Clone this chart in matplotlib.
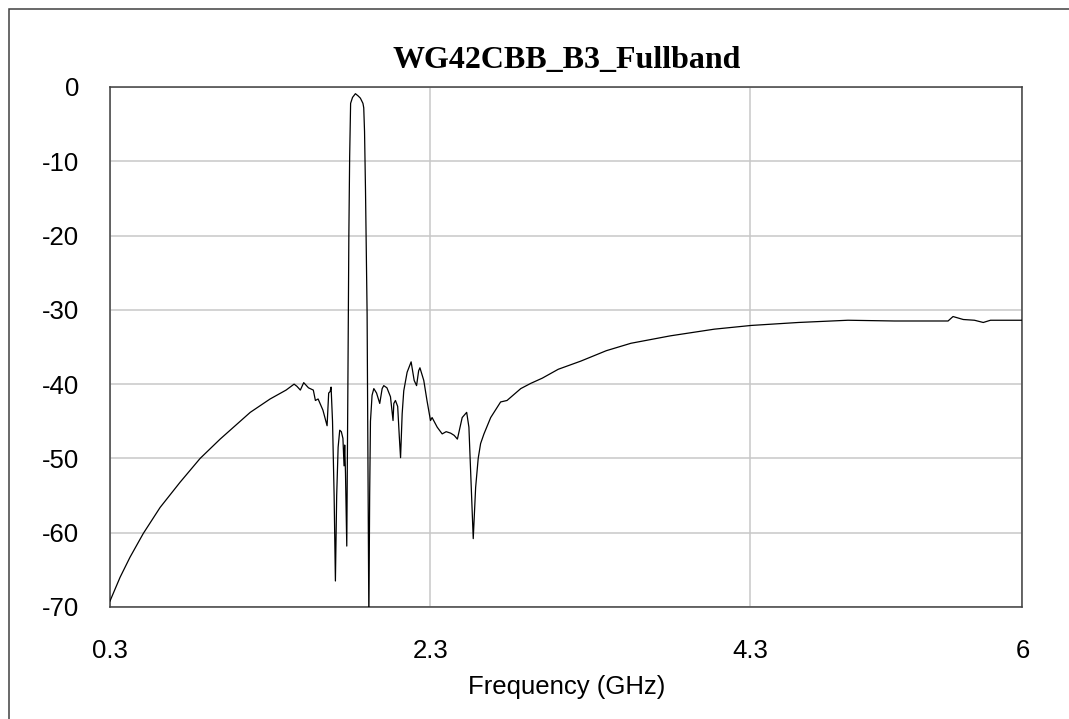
import matplotlib
matplotlib.use("Agg")
import matplotlib.pyplot as plt
from matplotlib.patches import Rectangle

plt.rcParams["axes.unicode_minus"] = False

# S-parameter trace (GHz, dB)
freq_ghz = [
    0.300, 0.363, 0.425, 0.508, 0.613, 0.738, 0.863, 0.988, 1.176, 1.300,
    1.400, 1.450, 1.468, 1.489, 1.510, 1.540, 1.570, 1.583, 1.600, 1.630,
    1.656, 1.666, 1.675, 1.681, 1.690, 1.700, 1.708, 1.716, 1.725, 1.735,
    1.745, 1.755, 1.762, 1.766, 1.771, 1.779, 1.786, 1.792, 1.797, 1.800,
    1.803, 1.815, 1.833, 1.850, 1.864, 1.880, 1.885, 1.890, 1.896, 1.906,
    1.917, 1.922, 1.927, 1.937, 1.948, 1.965, 1.985, 2.000, 2.010, 2.030,
    2.052, 2.068, 2.073, 2.083, 2.097, 2.107, 2.115, 2.125, 2.135, 2.156,
    2.181, 2.200, 2.215, 2.228, 2.236, 2.260, 2.280, 2.302, 2.312, 2.344,
    2.375, 2.400, 2.428, 2.450, 2.470, 2.500, 2.528, 2.542, 2.555, 2.569,
    2.584, 2.600, 2.615, 2.636, 2.678, 2.740, 2.780, 2.866, 2.928, 3.000,
    3.100, 3.241, 3.400, 3.554, 3.800, 4.075, 4.305, 4.600, 4.910, 5.200,
    5.535, 5.566, 5.630, 5.700, 5.755, 5.800, 6.000,
]
s21_db = [
    -69.2, -66.0, -63.3, -60.1, -56.6, -53.2, -50.0, -47.4, -43.8, -42.0,
    -40.8, -40.0, -40.3, -40.8, -39.8, -40.5, -40.8, -42.2, -42.0, -43.5,
    -45.6, -41.2, -41.0, -40.4, -45.0, -55.0, -66.5, -55.0, -48.5, -46.2,
    -46.4, -47.3, -51.0, -48.2, -52.0, -61.8, -40.0, -20.0, -9.4, -5.8,
    -2.2, -1.4, -0.9, -1.2, -1.5, -2.2, -2.8, -6.0, -13.9, -30.5,
    -72.0, -55.0, -45.0, -41.5, -40.6, -41.2, -42.6, -40.6, -40.2, -40.5,
    -41.7, -44.9, -42.6, -42.2, -43.0, -47.0, -49.9, -44.0, -40.9, -38.4,
    -37.0, -39.5, -40.2, -38.2, -37.8, -39.5, -42.2, -44.9, -44.5, -45.8,
    -46.7, -46.4, -46.6, -46.9, -47.4, -44.5, -43.8, -45.8, -53.0, -60.8,
    -53.9, -50.0, -48.0, -46.7, -44.5, -42.4, -42.2, -40.6, -39.9, -39.2,
    -38.0, -36.9, -35.5, -34.5, -33.5, -32.6, -32.1, -31.7, -31.4, -31.5,
    -31.5, -30.9, -31.3, -31.4, -31.7, -31.4, -31.4,
]

x_ticks = [0.3, 2.3, 4.3, 6]
x_tick_labels = ["0.3", "2.3", "4.3", "6"]
y_ticks = [0, -10, -20, -30, -40, -50, -60, -70]

fig = plt.figure(figsize=(10.69, 7.19), dpi=100)
ax = fig.add_axes([0.1029, 0.1558, 0.8536, 0.7232])

ax.plot(freq_ghz, s21_db, color="black", linewidth=0.9, zorder=3)

ax.set_xlim(0.3, 6)
ax.set_ylim(-70, 0)
ax.set_xticks(x_ticks)
ax.set_xticklabels(x_tick_labels)
ax.set_yticks(y_ticks)
ax.grid(True, color="#c8c8c8", linewidth=1.1)
ax.tick_params(length=0, labelsize=18.5)
ax.tick_params(axis="x", pad=23)
ax.tick_params(axis="y", pad=22)
for lab in ax.get_xticklabels() + ax.get_yticklabels():
    lab.set_fontfamily("Liberation Sans")
for sp in ax.spines.values():
    sp.set_color("#404040")
    sp.set_linewidth(1.1)

ax.set_xlabel("Frequency (GHz)", fontsize=18.5, family="Liberation Sans", labelpad=9)
ax.set_title("WG42CBB_B3_Fullband", fontsize=23, family="Liberation Serif",
             fontweight="bold", pad=14)

# outer frame around the whole chart
fig.patches.append(Rectangle((9 / 1069, -0.05), 1.2, 1.05 - 9 / 719,
                             transform=fig.transFigure, fill=False,
                             edgecolor="#404040", linewidth=1.1))

fig.savefig("out.png", dpi=100)
